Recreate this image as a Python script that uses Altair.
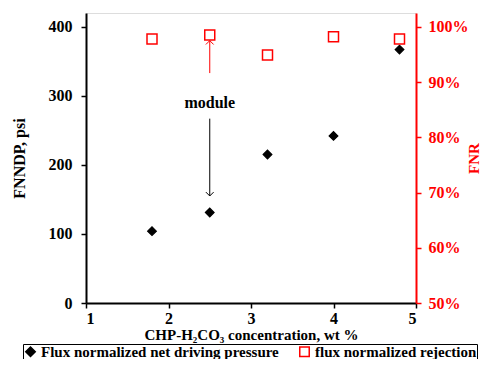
import altair as alt
import pandas as pd

conc = [1.8, 2.5, 3.2, 4.0, 4.8]
fnndp = [104, 131, 215, 242, 367]
fnr = [0.978, 0.985, 0.949, 0.982, 0.978]
series = ["Flux normalized net driving pressure", "flux normalized rejection"]
left_ticks = [0, 100, 200, 300, 400]
right_ticks = [0.5, 0.6, 0.7, 0.8, 0.9, 1.0]
x_ticks = [1, 2, 3, 4, 5]

df1 = pd.DataFrame({"x": conc, "y": fnndp, "s": series[0]})
df2 = pd.DataFrame({"x": conc, "y": fnr, "s": series[1]})

F = "Liberation Serif"
FS = 16
xs = alt.Scale(domain=[1, 5], nice=False)
xaxis = alt.Axis(values=x_ticks, title="CHP-H\u2082CO\u2083 concentration, wt %", grid=False,
                 labelFont=F, labelFontWeight="bold", labelFontSize=FS, labelColor="black",
                 titleFont=F, titleFontWeight="bold", titleFontSize=15, titleColor="black",
                 domainColor="black", domainWidth=2, tickColor="black", tickSize=5, tickWidth=1.5,
                 labelPadding=2, titleY=31, titleBaseline="middle")

shape_s = alt.Scale(domain=series, range=["diamond", "square"])
fill_s = alt.Scale(domain=series, range=["black", "white"])
stroke_s = alt.Scale(domain=series, range=["black", "red"])
leg = alt.Legend(title=None, orient="none", legendX=-63, legendY=331, direction="horizontal",
                 labelFont=F, labelFontWeight="bold", labelFontSize=15, labelColor="black",
                 labelLimit=400, strokeColor="black", padding=0, columnPadding=17,
                 symbolSize=90, symbolStrokeWidth=1.5, labelOffset=3)

def xenc():
    return alt.X("x:Q", scale=xs, axis=xaxis)

left = alt.Chart(df1).mark_point(size=75, filled=False, strokeWidth=1.2, opacity=1).encode(
    x=xenc(),
    y=alt.Y("y:Q", scale=alt.Scale(domain=[0, 420], nice=False),
            axis=alt.Axis(values=left_ticks, title="FNNDP, psi", grid=False,
                          labelFont=F, labelFontWeight="bold", labelFontSize=FS, labelColor="black",
                          titleFont=F, titleFontWeight="bold", titleFontSize=FS, titleColor="black",
                          domainColor="black", domainWidth=2, tickColor="black", tickSize=5,
                          tickWidth=1.5, labelPadding=9, titleX=-67, titleBaseline="middle")),
    shape=alt.Shape("s:N", scale=shape_s, legend=leg),
    fill=alt.Fill("s:N", scale=fill_s, legend=leg),
    stroke=alt.Stroke("s:N", scale=stroke_s, legend=leg),
)

right = alt.Chart(df2).mark_point(size=100, filled=False, strokeWidth=1.5, opacity=1).encode(
    x=xenc(),
    y=alt.Y("y:Q", scale=alt.Scale(domain=[0.5, 1.025], nice=False),
            axis=alt.Axis(values=right_ticks, format=".0%", title="FNR", orient="right", grid=False,
                          labelFont=F, labelFontWeight="bold", labelFontSize=FS, labelColor="red",
                          titleFont=F, titleFontWeight="bold", titleFontSize=15, titleColor="red",
                          titleAngle=270, titleX=57, titleBaseline="middle",
                          domainColor="red", domainWidth=2, tickColor="red",
                          tickSize=5, tickWidth=1.5, labelPadding=7, zindex=1)),
    shape=alt.Shape("s:N", scale=shape_s, legend=leg),
    fill=alt.Fill("s:N", scale=fill_s, legend=leg),
    stroke=alt.Stroke("s:N", scale=stroke_s, legend=leg),
)

ann = pd.DataFrame({"x": [2.5], "label": ["module"], "ty": [290], "r1": [333], "r2": [380],
                    "b1": [267], "b2": [155]})
ysc = alt.Scale(domain=[0, 420], nice=False)

txt = alt.Chart(ann).mark_text(font=F, fontWeight="bold", fontSize=FS, color="black").encode(
    x=xenc(), y=alt.Y("ty:Q", scale=ysc, axis=None), text="label:N")
red_line = alt.Chart(ann).mark_rule(color="red", strokeWidth=1).encode(
    x=xenc(), y=alt.Y("r1:Q", scale=ysc, axis=None), y2="r2:Q")
red_head = alt.Chart(ann).mark_point(shape="M -1 1 L 0 0 L 1 1", size=60, color="red",
                                     filled=False, strokeWidth=1, opacity=1).encode(
    x=xenc(), y=alt.Y("r2:Q", scale=ysc, axis=None))
blk_line = alt.Chart(ann).mark_rule(color="black", strokeWidth=1).encode(
    x=xenc(), y=alt.Y("b1:Q", scale=ysc, axis=None), y2="b2:Q")
blk_head = alt.Chart(ann).mark_point(shape="M -1 -1 L 0 0 L 1 -1", size=60, color="black",
                                     filled=False, strokeWidth=1, opacity=1).encode(
    x=xenc(), y=alt.Y("b2:Q", scale=ysc, axis=None))

annot = alt.layer(txt, red_line, red_head, blk_line, blk_head)

chart = alt.layer(left, annot, right).resolve_scale(y="independent").properties(
    width=330, height=290,
    autosize=alt.AutoSizeParams(type="none"),
    padding={"left": 78, "top": 5, "right": 64, "bottom": 56},
).configure_view(stroke="black", strokeWidth=2).configure(background="white")

chart.save("out.html", embed_options={"renderer": "svg", "actions": False})
